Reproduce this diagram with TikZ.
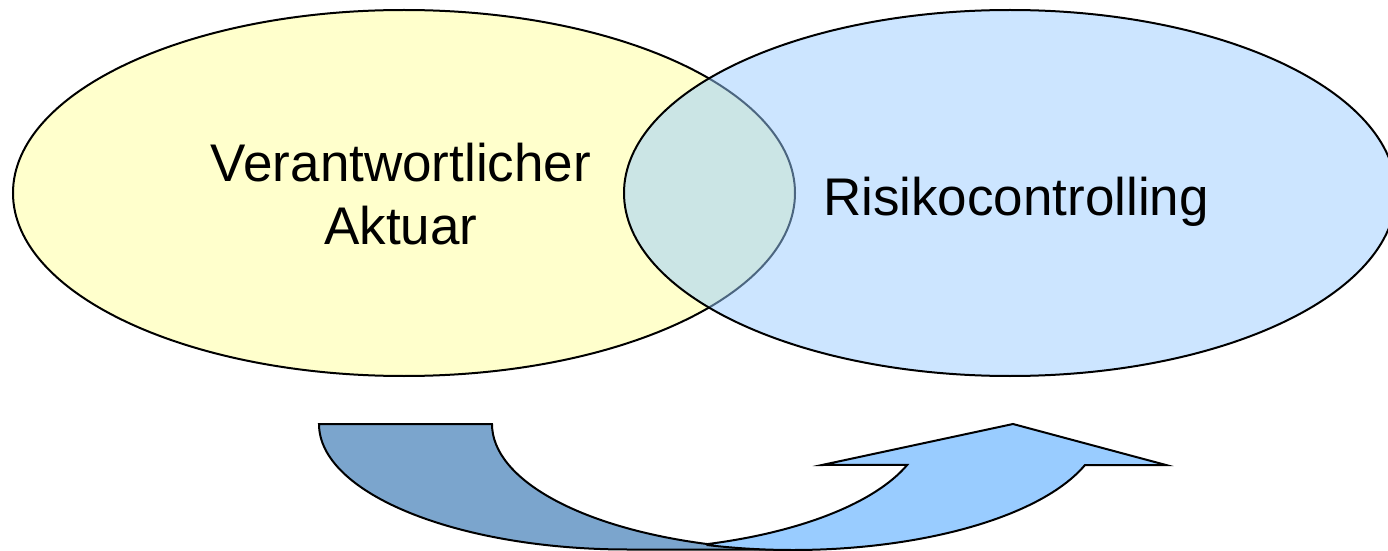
\documentclass[tikz,border=0pt]{standalone}
\usepackage{fontspec}
\setmainfont{Liberation Sans}
\usepackage{tikz}
\definecolor{gelb}{HTML}{FFFFCC}
\definecolor{hellblau}{HTML}{99CCFF}
\definecolor{dunkelblau}{HTML}{7BA5CD}
\tikzstyle{kreis}=[draw, line width=1pt]
\tikzstyle{pfeil}=[draw, line width=1pt, line join=miter]
\tikzstyle{txt}=[font=\fontsize{26.5}{31.5}\selectfont, align=center, inner sep=0pt]

\begin{document}
\begin{tikzpicture}[x=0.5pt, y=0.5pt, yscale=-1]
\useasboundingbox (0,0) rectangle (1388,551);
% the two ellipses
\draw[kreis, fill=gelb] (404,193) ellipse [x radius=195.5pt, y radius=91.5pt];
\draw[kreis, fill=hellblau, fill opacity=.5] (1010,193) ellipse [x radius=193pt, y radius=91.5pt];
% the labels
\node[txt] (VA) at (401,194.5) {Verantwortlicher\\Aktuar};
\node[txt, anchor=base] (RC) at (1016,215) {Risikocontrolling};
% the back part of the arrow
\draw[pfeil, fill=dunkelblau] (319,424) -- (492,424)
  arc [start angle=180, end angle=107.5, x radius=154.5pt, y radius=63pt]
  -- (780,549.5) -- (628,549.5)
  arc [start angle=90, end angle=180, x radius=154.5pt, y radius=62.75pt] -- cycle;
% the front part with the head
\draw[pfeil, fill=hellblau] (708,544)
  arc [start angle=72.5, end angle=19, x radius=154.5pt, y radius=63pt]
  -- (822,465) -- (1013,424) -- (1166,465) -- (1085,465)
  arc [start angle=19, end angle=106, x radius=154.5pt, y radius=63pt] -- cycle;
\end{tikzpicture}
\end{document}
